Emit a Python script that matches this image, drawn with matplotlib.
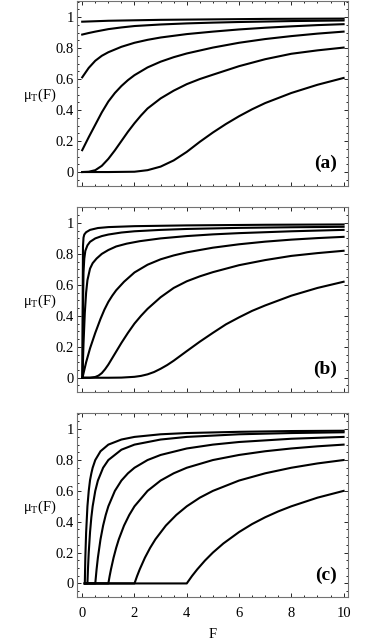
import matplotlib
matplotlib.use("Agg")
import matplotlib.pyplot as plt
import numpy as np

plt.rcParams["font.family"] = ["Liberation Serif", "DejaVu Serif"]
plt.rcParams["mathtext.fontset"] = "custom"
plt.rcParams["mathtext.rm"] = "Liberation Serif"
plt.rcParams["mathtext.default"] = "regular"

# ---- data: one (x, y) list per curve ----
# panel (a)
a1_x = [0, 0.5, 1, 2, 3, 5, 7, 10]
a1_y = [0.970, 0.973, 0.976, 0.979, 0.982, 0.985, 0.988, 0.990]
a2_x = [0, 0.25, 0.5, 1, 1.5, 2, 3, 4, 5, 6, 8, 10]
a2_y = [0.887, 0.897, 0.906, 0.922, 0.933, 0.942, 0.952, 0.959, 0.964, 0.968, 0.974, 0.978]
a3_x = [0, 0.25, 0.5, 0.75, 1, 1.5, 2, 2.5, 3, 4, 5, 6, 7, 8, 9, 10]
a3_y = [0.611, 0.672, 0.718, 0.750, 0.773, 0.808, 0.834, 0.853, 0.868, 0.890, 0.906,
        0.920, 0.931, 0.940, 0.948, 0.954]
a4_x = [0, 0.25, 0.5, 0.75, 1, 1.25, 1.5, 1.75, 2, 2.5, 3, 3.5, 4, 5, 6, 7, 8, 9, 10]
a4_y = [0.141, 0.225, 0.305, 0.385, 0.455, 0.510, 0.555, 0.593, 0.625, 0.675, 0.712,
        0.741, 0.765, 0.803, 0.834, 0.858, 0.877, 0.893, 0.906]
a5_x = [0, 0.25, 0.5, 0.75, 1, 1.25, 1.5, 1.75, 2, 2.25, 2.5, 3, 3.5, 4, 4.5, 5, 6, 7,
        8, 9, 10]
a5_y = [0, 0.002, 0.012, 0.040, 0.085, 0.140, 0.200, 0.260, 0.315, 0.365, 0.410, 0.475,
        0.525, 0.567, 0.600, 0.628, 0.683, 0.728, 0.763, 0.785, 0.803]
a6_x = [0, 1, 2, 2.5, 3, 3.5, 4, 4.5, 5, 5.5, 6, 6.5, 7, 8, 9, 10]
a6_y = [0, 0, 0.002, 0.012, 0.035, 0.075, 0.130, 0.195, 0.255, 0.310, 0.360, 0.405,
        0.445, 0.510, 0.563, 0.607]

# panel (b)
b1_x = [0.01, 0.02, 0.03, 0.05, 0.08, 0.15, 0.3, 0.6, 1, 2, 4, 7, 10]
b1_y = [0, 0.55, 0.85, 0.905, 0.925, 0.940, 0.955, 0.967, 0.973, 0.979, 0.984, 0.988, 0.990]
b2_x = [0.01, 0.03, 0.05, 0.08, 0.12, 0.2, 0.3, 0.5, 0.75, 1, 1.5, 2, 3, 4, 6, 8, 10]
b2_y = [0, 0.45, 0.68, 0.77, 0.82, 0.855, 0.878, 0.900, 0.915, 0.925, 0.938, 0.946,
        0.955, 0.961, 0.968, 0.972, 0.975]
b3_x = [0.01, 0.05, 0.1, 0.15, 0.2, 0.3, 0.4, 0.55, 0.75, 1, 1.3, 1.7, 2.2, 3, 4, 5, 6, 8, 10]
b3_y = [0, 0.22, 0.42, 0.55, 0.63, 0.705, 0.740, 0.770, 0.800, 0.825, 0.848, 0.866,
        0.882, 0.900, 0.915, 0.926, 0.934, 0.946, 0.955]
b4_x = [0.01, 0.15, 0.3, 0.5, 0.7, 0.85, 1, 1.15, 1.3, 1.6, 2, 2.5, 3, 3.5, 4, 5, 6, 7, 8, 9, 10]
b4_y = [0, 0.10, 0.19, 0.29, 0.38, 0.44, 0.49, 0.53, 0.565, 0.620, 0.680, 0.730, 0.765,
        0.790, 0.810, 0.840, 0.862, 0.879, 0.892, 0.902, 0.910]
b5_x = [0.01, 0.3, 0.5, 0.625, 0.75, 0.875, 1, 1.125, 1.25, 1.5, 1.75, 2, 2.25, 2.5, 3,
        3.5, 4, 4.5, 5, 6, 7, 8, 9, 10]
b5_y = [0, 0, 0.005, 0.014, 0.030, 0.055, 0.085, 0.120, 0.155, 0.225, 0.290, 0.350,
        0.400, 0.445, 0.520, 0.580, 0.623, 0.655, 0.682, 0.727, 0.760, 0.787, 0.805, 0.820]
b6_x = [0.01, 1, 1.5, 2, 2.25, 2.5, 2.75, 3, 3.25, 3.5, 4, 4.5, 5, 5.5, 6, 6.5, 7, 8, 9, 10]
b6_y = [0, 0, 0.001, 0.006, 0.012, 0.022, 0.037, 0.058, 0.082, 0.110, 0.172, 0.233,
        0.290, 0.345, 0.390, 0.432, 0.467, 0.530, 0.580, 0.620]

# panel (c)
c1_x = [0.1, 0.11, 0.12, 0.15, 0.2, 0.25, 0.3, 0.35, 0.4, 0.5, 0.7, 1, 1.5, 2, 3, 4, 6, 8, 10]
c1_y = [0, 0.09, 0.17, 0.33, 0.50, 0.60, 0.67, 0.714, 0.75, 0.80, 0.857, 0.90, 0.933,
        0.95, 0.967, 0.975, 0.983, 0.988, 0.99]
c2_x = [0.1, 0.2, 0.22, 0.25, 0.3, 0.35, 0.4, 0.5, 0.6, 0.8, 1, 1.5, 2, 3, 4, 6, 8, 10]
c2_y = [0, 0, 0.091, 0.20, 0.333, 0.429, 0.50, 0.60, 0.667, 0.75, 0.80, 0.867, 0.90,
        0.933, 0.95, 0.967, 0.975, 0.98]
c3_x = [0.1, 0.5, 0.55, 0.6, 0.7, 0.8, 0.9, 1, 1.25, 1.5, 1.75, 2, 2.5, 3, 4, 5, 6, 8, 10]
c3_y = [0, 0, 0.091, 0.167, 0.286, 0.375, 0.444, 0.50, 0.60, 0.667, 0.714, 0.75, 0.80,
        0.833, 0.875, 0.90, 0.917, 0.938, 0.95]
c4_x = [0.1, 1, 1.05, 1.1, 1.2, 1.3, 1.4, 1.6, 1.8, 2, 2.5, 3, 3.5, 4, 5, 6, 7, 8, 9, 10]
c4_y = [0, 0, 0.048, 0.091, 0.167, 0.231, 0.286, 0.375, 0.444, 0.50, 0.60, 0.667,
        0.714, 0.75, 0.80, 0.833, 0.857, 0.875, 0.889, 0.90]
c5_x = [0.1, 2, 2.1, 2.2, 2.4, 2.6, 2.8, 3.2, 3.6, 4, 4.5, 5, 6, 7, 8, 9, 10]
c5_y = [0, 0, 0.048, 0.091, 0.167, 0.231, 0.286, 0.375, 0.444, 0.50, 0.556, 0.60,
        0.667, 0.714, 0.75, 0.778, 0.80]
c6_x = [0.1, 4, 4.2, 4.4, 4.7, 5, 5.4, 6, 6.5, 7, 7.5, 8, 9, 10]
c6_y = [0, 0, 0.048, 0.091, 0.149, 0.20, 0.259, 0.333, 0.385, 0.429, 0.467, 0.50,
        0.556, 0.60]

y_ticks = [0, 0.2, 0.4, 0.6, 0.8, 1]
y_tick_labels = ["0", "0.2", "0.4", "0.6", "0.8", "1"]
x_ticks = [0, 2, 4, 6, 8, 10]
panel_tags = ["(a)", "(b)", "(c)"]

panels = [
    [(a1_x, a1_y), (a2_x, a2_y), (a3_x, a3_y), (a4_x, a4_y), (a5_x, a5_y), (a6_x, a6_y)],
    [(b1_x, b1_y), (b2_x, b2_y), (b3_x, b3_y), (b4_x, b4_y), (b5_x, b5_y), (b6_x, b6_y)],
    [(c1_x, c1_y), (c2_x, c2_y), (c3_x, c3_y), (c4_x, c4_y), (c5_x, c5_y), (c6_x, c6_y)],
]

fig = plt.figure(figsize=(3.66, 6.42), dpi=100)
boxes = [[0.2096, 0.7103, 0.7413, 0.2885],
         [0.2096, 0.3899, 0.7413, 0.2882],
         [0.2096, 0.0696, 0.7413, 0.2871]]

for i in range(3):
    ax = fig.add_axes(boxes[i])
    for xs, ys in panels[i]:
        ax.plot(xs, ys, color="black", lw=1.5, solid_joinstyle="round")
    ax.set_xlim(-0.21, 10.17)
    ax.set_ylim(-0.09, 1.105)
    ax.set_xticks(x_ticks)
    ax.set_xticks(np.arange(0, 10.01, 0.5), minor=True)
    ax.set_yticks(y_ticks)
    ax.set_yticklabels(y_tick_labels)
    ax.set_yticks(np.arange(-0.05, 1.101, 0.05), minor=True)
    ax.tick_params(which="both", direction="in", top=True, right=True,
                   colors="black", labelsize=10.5, width=0.6)
    ax.tick_params(which="major", length=3)
    ax.tick_params(which="minor", length=1.6)
    ax.tick_params(axis="y", pad=2)
    ax.tick_params(axis="x", pad=7)
    for s in ax.spines.values():
        s.set_color("0.45")
        s.set_linewidth(0.8)
    if i < 2:
        ax.set_xticklabels([])
    else:
        ax.set_xlabel("F", fontsize=10.5, labelpad=6)
    ax.text(-0.135, 0.49, "μ$_{\\mathrm{T}}$(F)", transform=ax.transAxes,
            ha="center", va="center", fontsize=10.5)
    ax.text(0.96, 0.12, panel_tags[i], transform=ax.transAxes, ha="right",
            va="center", fontsize=14, fontweight="bold")

fig.savefig("out.png", dpi=100)
